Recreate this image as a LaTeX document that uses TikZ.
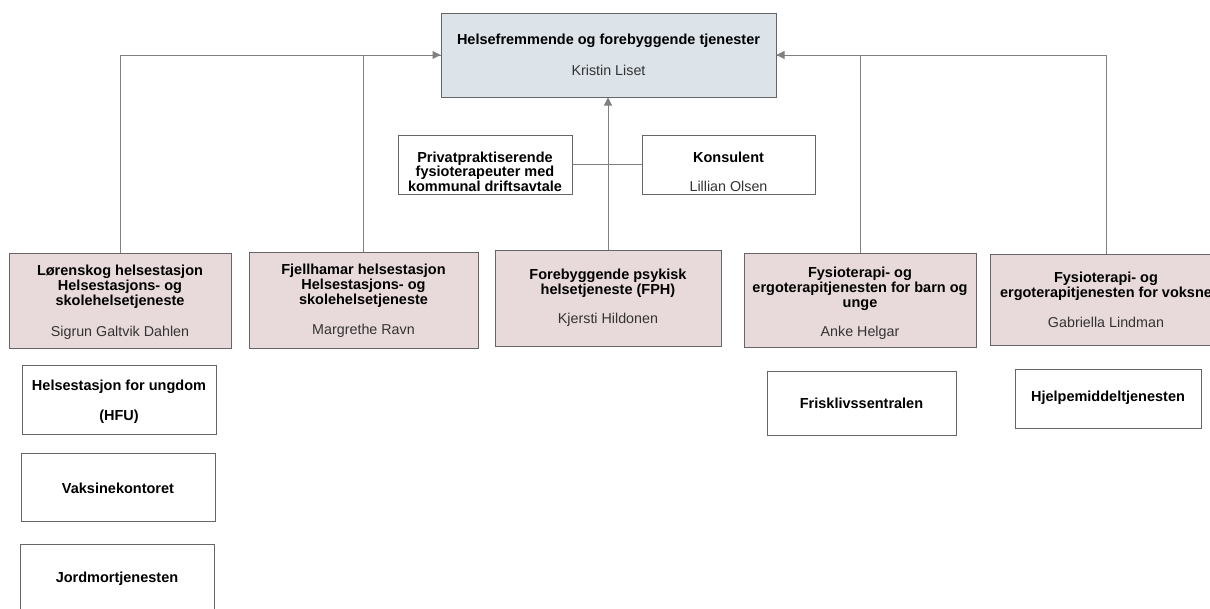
\documentclass[tikz,border=0pt]{standalone}
\usepackage{fontspec}
\setmainfont{Liberation Sans}
\usetikzlibrary{arrows.meta}
\definecolor{topfill}{HTML}{DCE3E9}
\definecolor{pinkfill}{HTML}{E8DADA}
\definecolor{boxline}{HTML}{666666}
\definecolor{connline}{HTML}{808080}
\definecolor{nametext}{HTML}{333333}
\tikzset{
  box/.style={draw=boxline, line width=1pt, inner sep=0pt},
  topbox/.style={box, fill=topfill},
  pbox/.style={box, fill=pinkfill},
  wbox/.style={box, fill=white},
  ttl/.style={font=\fontsize{14.5}{15}\selectfont\bfseries, align=center, inner sep=0pt, text=black},
  nm/.style={font=\fontsize{14.3}{15}\selectfont, inner sep=0pt, text=nametext},
  conn/.style={draw=connline, line width=1pt},
  arr/.style={conn, -{Triangle[length=8pt,width=8pt]}, color=connline},
}
\begin{document}
\begin{tikzpicture}[x=1pt,y=-1pt]
\useasboundingbox (0,0) rectangle (1210,608);
\clip (0,0) rectangle (1210,608);
% top
\node[topbox, minimum width=335pt, minimum height=84pt] (top) at (608.5,55) {};
\node[ttl] (topt) at (608.5,41) {Helsefremmende og forebyggende tjenester};
\node[nm] (topn) at (608.5,70) {Kristin Liset};
% staff
\node[wbox, minimum width=174pt, minimum height=59pt] (priv) at (485,164.5) {};
\node[ttl, font=\fontsize{14.5}{14.5}\selectfont\bfseries] (privt) at (485,171.5) {Privatpraktiserende\\fysioterapeuter med\\kommunal driftsavtale};
\node[wbox, minimum width=173pt, minimum height=59pt] (kons) at (728.5,164.5) {};
\node[ttl] (konst) at (728.5,157) {Konsulent};
\node[nm] (konsn) at (728.5,186) {Lillian Olsen};
% units
\node[pbox, minimum width=222pt, minimum height=95pt] (lor) at (120,300.5) {};
\node[ttl] (lort) at (120,287) {Lørenskog helsestasjon\\Helsestasjons- og\\skolehelsetjeneste};
\node[nm] (lorn) at (120,333) {Sigrun Galtvik Dahlen};
\node[pbox, minimum width=229pt, minimum height=96pt] (fj) at (363.5,300) {};
\node[ttl] (fjt) at (363.5,286) {Fjellhamar helsestasjon\\Helsestasjons- og\\skolehelsetjeneste};
\node[nm] (fjn) at (363.5,331) {Margrethe Ravn};
\node[pbox, minimum width=226pt, minimum height=96pt] (fph) at (608,298) {};
\node[ttl] (fpht) at (608,283.5) {Forebyggende psykisk\\helsetjeneste (FPH)};
\node[nm] (fphn) at (608,320) {Kjersti Hildonen};
\node[pbox, minimum width=232pt, minimum height=94pt] (barn) at (860,300) {};
\node[ttl] (barnt) at (860,289) {Fysioterapi- og\\ergoterapitjenesten for barn og\\unge};
\node[nm] (barnn) at (860,333) {Anke Helgar};
\node[pbox, minimum width=232pt, minimum height=91pt] (voks) at (1106,299.5) {};
\node[ttl] (vokst) at (1106,286.5) {Fysioterapi- og\\ergoterapitjenesten for voksne};
\node[nm] (voksn) at (1106,322) {Gabriella Lindman};
% sub units
\node[wbox, minimum width=194pt, minimum height=69pt] (hfu) at (119,399.5) {};
\node[ttl, font=\fontsize{14.5}{30}\selectfont\bfseries] (hfut) at (119,402) {Helsestasjon for ungdom\\(HFU)};
\node[wbox, minimum width=194pt, minimum height=68pt] (vak) at (118,487) {};
\node[ttl] (vakt) at (118,488) {Vaksinekontoret};
\node[wbox, minimum width=194pt, minimum height=70pt] (jord) at (117,579) {};
\node[ttl] (jordt) at (117,579) {Jordmortjenesten};
\node[wbox, minimum width=189pt, minimum height=64pt] (fris) at (861.5,403) {};
\node[ttl] (frist) at (861.5,403) {Frisklivssentralen};
\node[wbox, minimum width=186pt, minimum height=59pt] (hjelp) at (1108,398.5) {};
\node[ttl] (hjelpt) at (1108,398) {Hjelpemiddeltjenesten};
% connectors
\draw[arr] (lor.north) |- (top.west);
\draw[conn] (fj.north) |- (top.west);
\draw[arr] (voks.north) |- (top.east);
\draw[conn] (barn.north) |- (top.east);
\draw[arr] (fph.north) -- (fph.north |- top.south);
\draw[conn] (priv.east) -- (kons.west);
\end{tikzpicture}
\end{document}
